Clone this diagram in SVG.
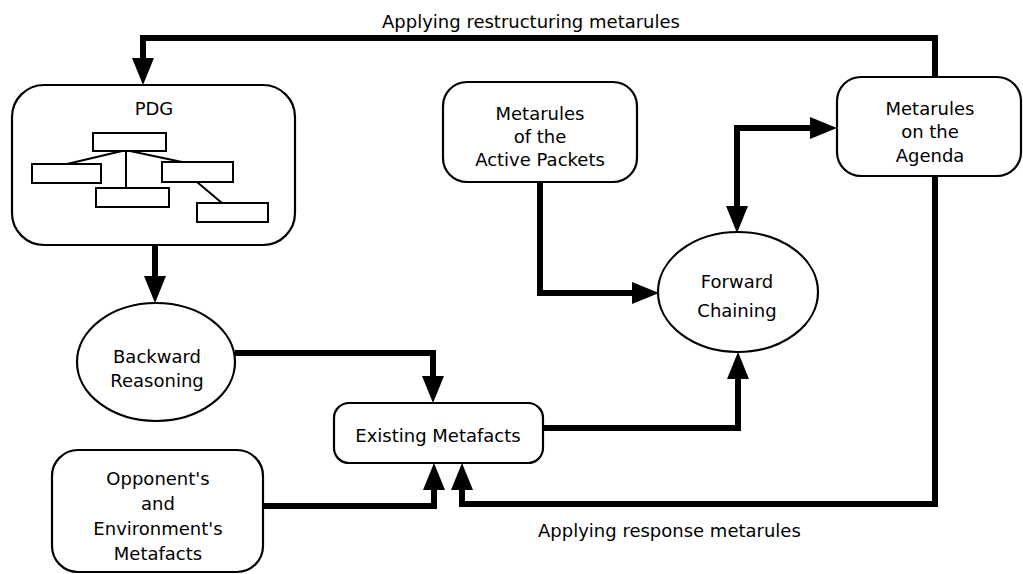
<svg xmlns="http://www.w3.org/2000/svg" width="1023" height="574" viewBox="0 0 1023 574">
<style>
  .box { fill: #ffffff; stroke: #000; stroke-width: 2.2; }
  .inner { fill: #ffffff; stroke: #000; stroke-width: 2; }
  .thin { fill: none; stroke: #000; stroke-width: 2; }
  .conn { fill: none; stroke: #000; stroke-width: 6; stroke-linejoin: miter; }
  text { font-family: "DejaVu Sans", "Liberation Sans", sans-serif; font-size: 18px; fill: #000; text-anchor: middle; }
  .lbl { text-anchor: start; }
</style>
<defs>
  <marker id="ah" markerUnits="userSpaceOnUse" markerWidth="30" markerHeight="24" refX="0" refY="11" orient="auto-start-reverse">
    <path d="M0,0 L27,11 L0,22 Z" fill="#000"/>
  </marker>
</defs>
<rect width="1023" height="574" fill="#ffffff"/>

<g id="connectors">
  <path class="conn" d="M935,77 V38 H143 V58" marker-end="url(#ah)"/>
  <path class="conn" d="M155,245 V276" marker-end="url(#ah)"/>
  <path class="conn" d="M235,353 H433 V376" marker-end="url(#ah)"/>
  <path class="conn" d="M263,506 H434 V490" marker-end="url(#ah)"/>
  <path class="conn" d="M935,176 V504 H462 V490" marker-end="url(#ah)"/>
  <path class="conn" d="M540,182 V293 H632" marker-end="url(#ah)"/>
  <path class="conn" d="M543,428 H738 V379" marker-end="url(#ah)"/>
  <path class="conn" d="M737,206 V128 H810" marker-start="url(#ah)" marker-end="url(#ah)"/>
</g>

<g id="pdg">
  <rect class="box" x="12" y="85" width="283" height="160" rx="32" ry="32"/>
  <text x="154" y="115">PDG</text>
  <path class="thin" d="M126,151 V188 M122,151 L67,164 M130,151 L182,162 M197,182 L222,203"/>
  <rect class="inner" x="93" y="133" width="73" height="18"/>
  <rect class="inner" x="32" y="164" width="69" height="19"/>
  <rect class="inner" x="96" y="188" width="73" height="19"/>
  <rect class="inner" x="162" y="162" width="71" height="20"/>
  <rect class="inner" x="197" y="203" width="71" height="19"/>
</g>

<g id="active-packets">
  <rect class="box" x="443" y="82" width="194" height="100" rx="24" ry="24"/>
  <text x="540" y="120">Metarules</text>
  <text x="540" y="143">of the</text>
  <text x="540" y="166">Active Packets</text>
</g>

<g id="agenda">
  <rect class="box" x="837" y="77" width="184" height="99" rx="24" ry="24"/>
  <text x="930" y="115">Metarules</text>
  <text x="930" y="138">on the</text>
  <text x="930" y="162">Agenda</text>
</g>

<g id="forward-chaining">
  <ellipse class="box" cx="738" cy="292" rx="80" ry="60"/>
  <text x="737" y="288">Forward</text>
  <text x="737" y="317">Chaining</text>
</g>

<g id="backward-reasoning">
  <ellipse class="box" cx="156" cy="362" rx="79" ry="59"/>
  <text x="157" y="363">Backward</text>
  <text x="157" y="387">Reasoning</text>
</g>

<g id="existing-metafacts">
  <rect class="box" x="334" y="403" width="209" height="60" rx="15" ry="15"/>
  <text x="438" y="442">Existing Metafacts</text>
</g>

<g id="opponent">
  <rect class="box" x="52" y="450" width="211" height="122" rx="26" ry="26"/>
  <text x="158" y="485">Opponent's</text>
  <text x="158" y="510">and</text>
  <text x="158" y="535">Environment's</text>
  <text x="158" y="560">Metafacts</text>
</g>

<g id="labels">
  <text class="lbl" x="382" y="28">Applying restructuring metarules</text>
  <text class="lbl" x="538" y="537">Applying response metarules</text>
</g>
</svg>
